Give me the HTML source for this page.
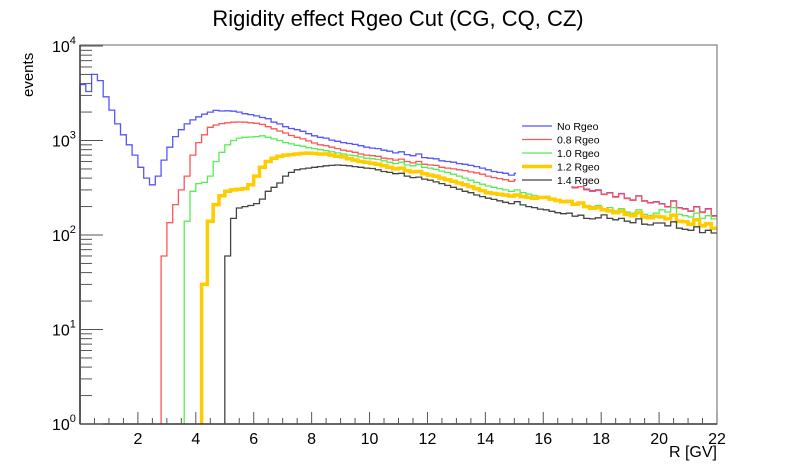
<!DOCTYPE html>
<html><head><meta charset="utf-8"><style>
body{margin:0;background:#fff;}
svg{display:block;font-family:"Liberation Sans",sans-serif;}
</style></head><body>
<svg id="chart" width="796" height="472">
<rect width="796" height="472" fill="#fff"/>
<text x="398" y="26" text-anchor="middle" font-size="22">Rigidity effect Rgeo Cut (CG, CQ, CZ)</text>
<text transform="translate(33,97) rotate(-90)" font-size="15">events</text>
<text x="717" y="457" text-anchor="end" font-size="16">R [GV]</text>
<g id="series"></g>
<g id="axes"></g>
<g id="legend"></g>
</svg>
<script>
const binWidth = 0.2;
const seriesNames = ["No Rgeo","0.8 Rgeo","1.0 Rgeo","1.2 Rgeo","1.4 Rgeo"];
const seriesColors = ["#5555ff","#ff5555","#55ee55","#ffcc00","#444444"];
const noRgeo = [3900,3300,5000,4300,2900,2100,1500,1150,900,700,
520,400,340,420,620,850,1100,1300,1500,1650,
1780,1900,2000,2080,2050,2060,2040,2000,1920,1880,
1820,1750,1700,1560,1500,1400,1340,1300,1250,1180,
1120,1080,1060,1010,980,950,930,910,880,850,
830,820,790,770,740,760,710,690,720,660,
650,640,610,600,590,570,560,545,530,510,
490,470,460,450,430,450,420,410,395,390,
380,365,360,340,345,320,330,305,295,300,
270,280,255,275,245,235,260,230,220,225,
215,200,230,195,190,180,200,175,190,160];
const rgeo08 = [0,0,0,0,0,0,0,0,0,0,
0,0,0,0,60,135,210,300,420,700,
950,1150,1380,1460,1510,1540,1560,1570,1560,1540,
1520,1480,1400,1330,1260,1200,1130,1080,1040,990,
940,900,880,850,820,790,770,750,720,700,
690,680,650,640,620,635,600,580,600,560,
550,545,520,510,500,490,480,465,455,440,
420,405,395,385,370,385,360,355,345,340,
370,355,352,335,340,315,325,300,290,296,
268,278,252,272,243,233,258,228,218,223,
213,198,228,193,188,178,198,173,188,158];
const rgeo10 = [0,0,0,0,0,0,0,0,0,0,
0,0,0,0,0,0,0,0,140,290,
350,360,420,600,750,900,1000,1060,1080,1090,
1100,1120,1080,1040,1000,950,920,890,870,840,
820,800,780,760,740,720,700,690,670,650,
640,630,610,590,570,590,550,540,560,520,
510,495,475,460,440,420,400,380,360,345,
330,320,310,300,290,300,280,270,262,255,
250,240,235,225,230,215,220,205,200,205,
185,195,180,190,175,170,185,165,160,170,
185,175,195,165,160,155,170,150,160,148];
const rgeo12 = [0,0,0,0,0,0,0,0,0,0,
0,0,0,0,0,0,0,0,0,0,
0,30,140,210,260,290,300,305,310,340,
420,520,600,650,680,700,710,720,730,735,
730,720,720,700,680,670,640,620,600,590,
575,560,540,520,500,510,480,465,470,445,
430,420,400,385,370,355,340,325,310,295,
280,275,270,265,258,265,255,250,245,250,
250,240,232,225,228,212,218,200,192,195,
185,180,172,178,165,160,172,155,152,158,
155,148,162,140,138,130,145,125,132,118];
const rgeo14 = [0,0,0,0,0,0,0,0,0,0,
0,0,0,0,0,0,0,0,0,0,
0,0,0,0,0,60,150,193,200,205,
215,240,290,320,355,420,460,490,500,510,
520,530,540,545,550,545,540,530,520,510,
505,490,470,460,445,450,420,405,410,390,
380,365,350,335,320,305,290,280,265,255,
245,238,230,222,215,225,208,200,195,188,
185,178,172,168,170,158,162,150,148,152,
163,150,145,150,140,135,148,130,128,134,
134,125,138,118,115,112,122,106,112,105];
const allSeries = [noRgeo,rgeo08,rgeo10,rgeo12,rgeo14];
const xTicks = [2,4,6,8,10,12,14,16,18,20,22];
const yDecades = [0,1,2,3,4];

const NS="http://www.w3.org/2000/svg";
const X0=80,X1=717,Y0=424,Y1=46,XMIN=0,XMAX=22;
function xs(v){return X0+(v-XMIN)/(XMAX-XMIN)*(X1-X0);}
function ys(v){return Y0-Math.log10(v)/4*(Y0-Y1);}
function mk(tag,attrs,parent){const e=document.createElementNS(NS,tag);for(const k in attrs)e.setAttribute(k,attrs[k]);parent.appendChild(e);return e;}

const sg=document.getElementById('series');
allSeries.forEach((vals,si)=>{
  let d="",started=false;
  vals.forEach((v,i)=>{
    const xa=xs(i*binWidth),xb=xs((i+1)*binWidth);
    if(!v||v<=0){ if(started){d+=`V${Y0}`;started=false;} return;}
    const y=ys(v);
    if(!started){d+=`M${xa.toFixed(1)},${Y0}V${y.toFixed(1)}`;started=true;}
    else d+=`V${y.toFixed(1)}`;
    d+=`H${xb.toFixed(1)}`;
  });
  const p=mk('path',{d:d,fill:'none',stroke:seriesColors[si],'stroke-width':si===3?3.5:1.3,'stroke-linejoin':'miter'},sg);
  
  
});

const ag=document.getElementById('axes');
mk('rect',{x:X0,y:Y1-1,width:X1-X0,height:Y0-Y1+1,fill:'none',stroke:'#666','stroke-width':1},ag);
mk('line',{x1:X0,y1:Y1-1,x2:X0,y2:Y0,stroke:'#333','stroke-width':1.5},ag);
mk('line',{x1:X0,y1:Y0,x2:X1,y2:Y0,stroke:'#333','stroke-width':1.5},ag);
for(let v=0.5;v<=22.001;v+=0.5){
  const major=Math.abs(v/2-Math.round(v/2))<1e-6;
  mk('line',{x1:xs(v),y1:Y0,x2:xs(v),y2:Y0-(major?12:6),stroke:'#555','stroke-width':1},ag);
}
xTicks.forEach(t=>{
  const e=mk('text',{x:xs(t),y:444,'text-anchor':'middle','font-size':16},ag);
  e.textContent=t;
  
  
});
yDecades.forEach(dd=>{
  const base=Math.pow(10,dd);
  mk('line',{x1:X0,y1:ys(base),x2:X0+23,y2:ys(base),stroke:'#555','stroke-width':1},ag);
  if(dd<4){for(let m=2;m<=9;m++){mk('line',{x1:X0,y1:ys(base*m),x2:X0+12,y2:ys(base*m),stroke:'#555','stroke-width':1},ag);}}
  const t=mk('text',{x:52,y:ys(base)+6,'font-size':16},ag);
  
  
  t.textContent='10';
  const s=mk('tspan',{dy:-8,'font-size':11},t);s.textContent=dd;
});

const lg=document.getElementById('legend');
mk('rect',{x:516,y:118,width:92,height:68,fill:'#fff'},lg);
seriesNames.forEach((n,i)=>{
  const y=126+i*13.5;
  const l=mk('line',{x1:522,y1:y,x2:552,y2:y,stroke:seriesColors[i],'stroke-width':i===3?3.5:1.3},lg);
  
  
  const t=mk('text',{x:557,y:y+4,'font-size':10.5},lg);
  t.textContent=n;
  
  
});
</script>
</body></html>
